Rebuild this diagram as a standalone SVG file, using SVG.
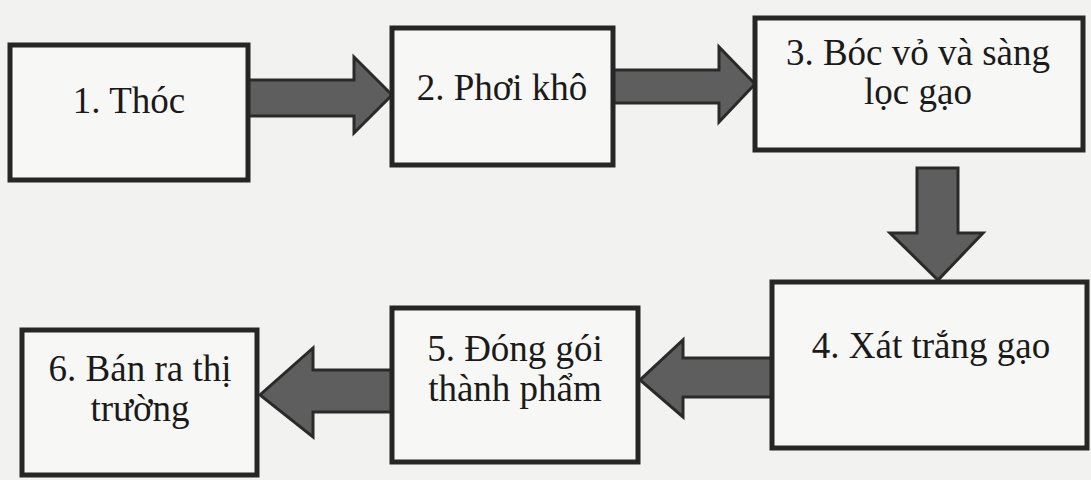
<svg xmlns="http://www.w3.org/2000/svg" width="1091" height="480" viewBox="0 0 1091 480">
  <style>
    .box { fill: #f7f7f5; stroke: #262626; stroke-width: 5; }
    .lbl { font-family: "Liberation Serif", "Times New Roman", serif; font-size: 37px; fill: #1a1a1a; text-anchor: middle; }
    .arrow { fill: #5e5e5e; stroke: #2a2a2a; stroke-width: 3; stroke-linejoin: miter; }
  </style>
  <rect width="1091" height="480" fill="#f2f2f0"/>

  <!-- block arrows between steps -->
  <g id="connectors">
    <polygon class="arrow" points="248,80 354,80 354,57 392,95 354,133 354,116 248,116"/>
    <polygon class="arrow" points="613,70 719,70 719,47 755,84 719,122 719,103 613,103"/>
    <polygon class="arrow" points="917,168 958,168 958,233 983,233 938,280 890,233 917,233"/>
    <polygon class="arrow" points="772,358 683,358 683,340 640,380 683,417 683,397 772,397"/>
    <polygon class="arrow" points="392,370 313,370 313,348 260,395 313,437 313,412 392,412"/>
  </g>

  <g id="node1">
    <rect class="box" x="10" y="45" width="238" height="135"/>
    <text class="lbl" x="129" y="113">1. Thóc</text>
  </g>
  <g id="node2">
    <rect class="box" x="392" y="28" width="221" height="137"/>
    <text class="lbl" x="502" y="100">2. Phơi khô</text>
  </g>
  <g id="node3">
    <rect class="box" x="755" y="18" width="328" height="132"/>
    <text class="lbl" x="918" y="65">3. Bóc vỏ và sàng</text>
    <text class="lbl" x="918" y="104">lọc gạo</text>
  </g>
  <g id="node4">
    <rect class="box" x="772" y="282" width="315" height="166"/>
    <text class="lbl" x="931" y="358">4. Xát trắng gạo</text>
  </g>
  <g id="node5">
    <rect class="box" x="392" y="308" width="246" height="154"/>
    <text class="lbl" x="515" y="361">5. Đóng gói</text>
    <text class="lbl" x="515" y="401">thành phẩm</text>
  </g>
  <g id="node6">
    <rect class="box" x="22" y="330" width="235" height="145"/>
    <text class="lbl" x="140" y="381">6. Bán ra thị</text>
    <text class="lbl" x="140" y="421">trường</text>
  </g>
</svg>
